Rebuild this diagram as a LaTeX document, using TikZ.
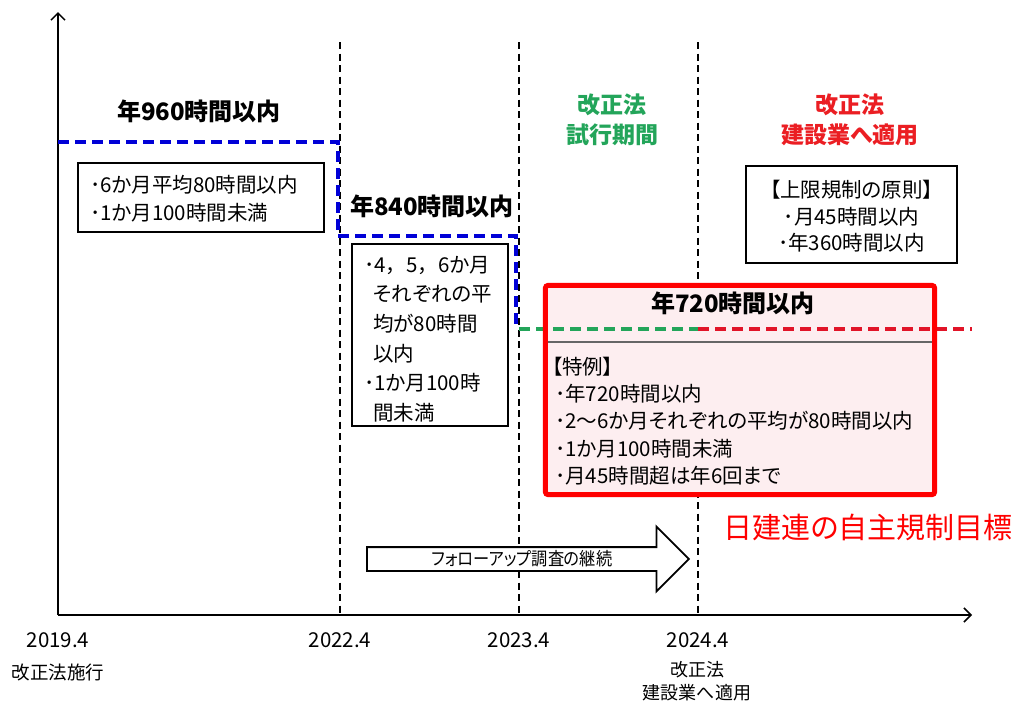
\documentclass[tikz,border=0pt]{standalone}
\usepackage{fontspec}
\setmainfont{Noto Sans CJK JP}[RawFeature=+palt]
\newfontfamily\fullw{Noto Sans CJK JP}
\usetikzlibrary{arrows.meta,shapes.arrows}
\definecolor{dblue}{RGB}{0,0,215}
\definecolor{dgreen}{RGB}{35,165,90}
\definecolor{hred}{RGB}{235,30,35}
\definecolor{lred}{RGB}{225,20,40}
\definecolor{pinkfill}{RGB}{253,238,240}
\definecolor{boxred}{RGB}{255,0,0}
\begin{document}
\begin{tikzpicture}[x=1pt,y=-1pt,
  axis/.style={line width=1.5pt,-{Straight Barb[length=7pt,width=14pt,line width=1.5pt]}},
  vdash/.style={line width=1.6pt,dash pattern=on 7pt off 4.5pt},
  plan/.style={line width=3.5pt,dash pattern=on 11pt off 6pt},
  frame/.style={draw,line width=1.3pt,inner sep=0pt},
  body/.style={font=\fontsize{20.5}{28}\selectfont,align=left,inner sep=0pt},
  head/.style={font=\fontsize{24}{30}\selectfont\bfseries,inner sep=0pt},
  phase/.style={font=\fontsize{23}{30}\selectfont\bfseries,inner sep=0pt,align=center},
  tick/.style={font=\fontsize{20.5}{24}\selectfont,inner sep=0pt},
  note/.style={font=\fontsize{18.5}{23}\selectfont,inner sep=0pt,align=center}]
\useasboundingbox (0,0) rectangle (1018,702);
\fill[white] (0,0) rectangle (1018,702);

% axes
\coordinate (o) at (58,615);
\coordinate (ytop) at (58,12);
\coordinate (xend) at (972,615);
\draw[axis] (o) -- (ytop);
\draw[axis] (o) -- (xend);

% vertical dashed lines
\coordinate (v1t) at (340,42); \coordinate (v1b) at (340,615);
\coordinate (v2t) at (519,42); \coordinate (v2b) at (519,615);
\coordinate (v3t) at (698,42); \coordinate (v3b) at (698,615);
\draw[vdash] (v1t) -- (v1b);
\draw[vdash] (v2t) -- (v2b);
\draw[vdash] (v3t) -- (v3b);

% blue stepped limit
\coordinate (b0) at (58,142);
\coordinate (b1) at (338,142);
\coordinate (b2) at (338,236);
\coordinate (b3) at (516,236);
\coordinate (b4) at (516,329);
\draw[plan,dblue] (b0) -- (b1) -- (b2) -- (b3) -- (b4);

% red box background
\node[fill=pinkfill,minimum width=389pt,minimum height=209pt,inner sep=0pt] (rb) at (740,390) {};

% green / red dashed limit
\coordinate (g0) at (519,329);
\coordinate (g1) at (698,329);
\coordinate (r1) at (972,329);
\draw[plan,dgreen] (g0) -- (g1);
\draw[plan,lred] (g1) -- (r1);

% red box border and separator
\coordinate (sep) at (740,342);
\draw[gray!80!black,line width=1.4pt] (rb.west |- sep) -- (rb.east |- sep);
\draw[boxred,line width=5pt,rounded corners=3pt] (rb.north west) rectangle (rb.south east);
\node[head] (t720) at (733,303) {年720時間以内};
\node[body,anchor=west,font=\fontsize{20.5}{27.2}\selectfont] (tokurei) at (555,421)
  {\hspace*{-3pt}【特例】\\
   ･年720時間以内\\
   ･2〜6か月それぞれの平均が80時間以内\\
   ･1か月100時間未満\\
   ･月45時間超は年6回まで};

% headings
\node[head] (t960) at (199,111) {年960時間以内};
\node[head] (t840) at (432,206) {年840時間以内};
\node[phase,text=dgreen] (trial) at (612,120) {改正法\\試行期間};
\node[phase,text=hred] (apply) at (850,120) {改正法\\建設業へ適用};

% box 1
\node[frame,minimum width=246pt,minimum height=69pt] (box1) at (201,197.5) {};
\node[body,anchor=west] (txt1) at (90,199) {･6か月平均80時間以内\\･1か月100時間未満};

% box 2
\node[frame,minimum width=156pt,minimum height=182pt] (box2) at (430,335) {};
\node[body,anchor=west,font=\fontsize{20.5}{29.6}\selectfont] (txt2) at (364,339)
  {･4{\fullw ，}5{\fullw ，}6か月\\
   \hspace*{9pt}それぞれの平\\
   \hspace*{9pt}均が80時間\\
   \hspace*{9pt}以内\\
   ･1か月100時\\
   \hspace*{9pt}間未満};

% box 3
\node[frame,minimum width=211pt,minimum height=97pt] (box3) at (851.5,214.5) {};
\node[body,align=center,font=\fontsize{20.5}{26.5}\selectfont] (txt3) at (851.5,216.5)
  {【上限規制の原則】\\･月45時間以内\\･年360時間以内};

% follow-up arrow
\node[single arrow,draw,fill=white,line width=1.8pt,minimum height=322pt,minimum width=65pt,
  single arrow head extend=16pt,inner sep=0pt,font=\fontsize{18}{20}\selectfont] (follow) at (522,559)
  {\scalebox{0.9}[1]{フォローアップ調査の継続}};

% self regulation label
\node[inner sep=0pt,text=boxred,font=\fontsize{29}{32}\selectfont] (goal) at (868,527) {日建連の自主規制目標};

% tick labels
\node[tick] (y2019) at (58,640) {2019.4};
\node[tick] (y2022) at (340,640) {2022.4};
\node[tick] (y2023) at (519,640) {2023.4};
\node[tick] (y2024) at (698,640) {2024.4};
\node[note] (n2019) at (58,672) {改正法施行};
\node[note,font=\fontsize{18}{23}\selectfont] (n2024) at (697,681) {改正法\\建設業へ適用};
\end{tikzpicture}
\end{document}
